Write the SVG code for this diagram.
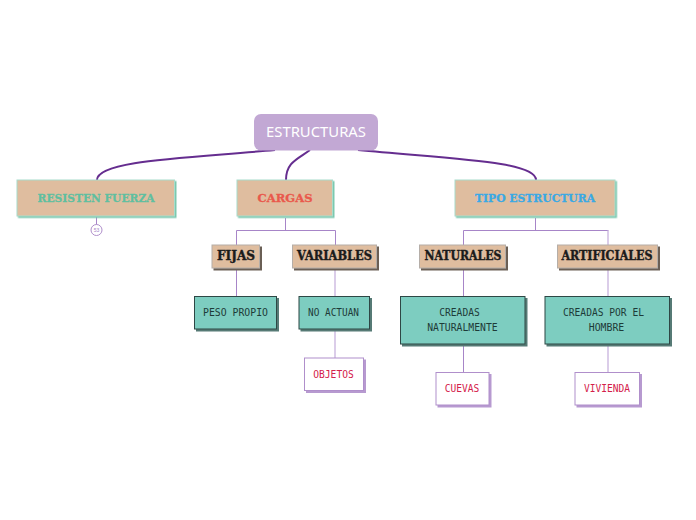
<svg xmlns="http://www.w3.org/2000/svg" width="696" height="520" viewBox="0 0 696 520">
<style>
text{text-anchor:middle}
.main{fill:#dfbd9f;stroke:#a8dccb;stroke-width:1;filter:url(#sg)}
.sub{fill:#dfbd9f;stroke:#b5aea8;stroke-width:1;filter:url(#sb)}
.teal{fill:#7dcdc0;stroke:#2f4744;stroke-width:1;filter:url(#sb2)}
.leaf{fill:#fff;stroke:#b08fcb;stroke-width:1;filter:url(#sp)}
.t1{font:bold 11.500px "DejaVu Serif",serif;stroke-width:.3}
.t2{font:bold 12px "DejaVu Serif",serif;fill:#1b1b1b;stroke:#1b1b1b;stroke-width:.4}
.t3{font:10.500px "DejaVu Sans Mono","Liberation Mono",monospace;fill:#1d3b38}
.t4{font:10.500px "DejaVu Sans Mono","Liberation Mono",monospace;fill:#d4204a}
.thick{fill:none;stroke:#652d8f;stroke-width:2}
.thin{fill:none;stroke:#a785c8;stroke-width:1}
.pale{fill:none;stroke:#cfbde2;stroke-width:1.500}
</style>
<defs>
<filter id="sg" x="-5%" y="-10%" width="110%" height="125%"><feDropShadow dx="1.500" dy="1.500" stdDeviation="0" flood-color="#7cc8ae"/></filter>
<filter id="sb" x="-5%" y="-10%" width="112%" height="130%"><feDropShadow dx="2" dy="2" stdDeviation="0" flood-color="#6b5e54"/></filter>
<filter id="sb2" x="-5%" y="-10%" width="112%" height="130%"><feDropShadow dx="2" dy="2" stdDeviation="0" flood-color="#577a75"/></filter>
<filter id="sp" x="-5%" y="-10%" width="115%" height="125%"><feDropShadow dx="2" dy="2" stdDeviation="0" flood-color="#b79ad0"/></filter>
</defs>
<g id="connectors">
<path class="thick" d="M275 150 C190 158 97 160 97 180"/>
<path class="thick" d="M310 150 C298 159 286 162 286 180"/>
<path class="thick" d="M358 150 C450 159 536 161 536 180"/>
<path class="thin" d="M96.500 217V225M285.500 218V230.500M236.500 245V230.500H335.500V245M535.500 218V230.500M463.500 245V230.500H608.500"/>
<path class="pale" d="M608 230.500V245M335 269V296M335 330V358M608 269V296M608 345V372"/>
<path class="thin" d="M236.500 269V296M463.500 269V296M463.500 345V372"/>
</g>
<g id="root"><rect x="254" y="114" width="124" height="36.500" rx="7" fill="#c2a8d4"/><text x="316" y="137" font-family="'Noto Sans',sans-serif" font-size="14.500" fill="#fff" textLength="100" lengthAdjust="spacingAndGlyphs">ESTRUCTURAS</text></g>
<g id="resisten"><rect class="main" x="17" y="180" width="157.500" height="36"/><text class="t1" x="96" y="201.500" fill="#5fbfa0" stroke="#5fbfa0" textLength="117" lengthAdjust="spacingAndGlyphs">RESISTEN FUERZA</text></g>
<g id="collapse"><circle cx="96.500" cy="230" r="5.500" fill="#fff" stroke="#b08fcb"/><text x="96.500" y="232" font-family="'Liberation Sans',sans-serif" font-size="5" fill="#a785c8">53</text></g>
<g id="cargas"><rect class="main" x="237" y="180" width="95.500" height="36"/><text class="t1" x="285" y="201.500" fill="#e9594c" stroke="#e9594c" textLength="55" lengthAdjust="spacingAndGlyphs">CARGAS</text></g>
<g id="tipo"><rect class="main" x="455" y="180" width="160" height="36"/><text class="t1" x="535" y="201.500" fill="#3aa9e4" stroke="#3aa9e4" textLength="120" lengthAdjust="spacingAndGlyphs">TIPO ESTRUCTURA</text></g>
<g id="fijas"><rect class="sub" x="212" y="245" width="47.500" height="23"/><text class="t2" x="236" y="259.500" textLength="38" lengthAdjust="spacingAndGlyphs">FIJAS</text></g>
<g id="variables"><rect class="sub" x="292.500" y="245" width="84" height="23"/><text class="t2" x="334.500" y="259.500" textLength="75" lengthAdjust="spacingAndGlyphs">VARIABLES</text></g>
<g id="naturales"><rect class="sub" x="419.500" y="245" width="86" height="23"/><text class="t2" x="463" y="259.500" textLength="77" lengthAdjust="spacingAndGlyphs">NATURALES</text></g>
<g id="artificiales"><rect class="sub" x="557.500" y="245" width="100" height="23"/><text class="t2" x="607" y="259.500" textLength="91" lengthAdjust="spacingAndGlyphs">ARTIFICIALES</text></g>
<g id="peso"><rect class="teal" x="194.500" y="296.500" width="82" height="32.500"/><text class="t3" x="235.500" y="316" textLength="65" lengthAdjust="spacingAndGlyphs">PESO PROPIO</text></g>
<g id="noactuan"><rect class="teal" x="299" y="296.500" width="70.500" height="32.500"/><text class="t3" x="333.500" y="316" textLength="51" lengthAdjust="spacingAndGlyphs">NO ACTUAN</text></g>
<g id="objetos"><rect class="leaf" x="304.500" y="358" width="59" height="32.500"/><text class="t4" x="333.500" y="378" textLength="40.500" lengthAdjust="spacingAndGlyphs">OBJETOS</text></g>
<g id="creadasnat"><rect class="teal" x="400.500" y="296.500" width="124.500" height="47.500"/><text class="t3" x="459.500" y="316" textLength="40.500" lengthAdjust="spacingAndGlyphs">CREADAS</text><text class="t3" x="462.500" y="331" textLength="70.500" lengthAdjust="spacingAndGlyphs">NATURALMENTE</text></g>
<g id="creadaspor"><rect class="teal" x="545" y="296.500" width="124.500" height="47.500"/><text class="t3" x="603.500" y="316" textLength="81" lengthAdjust="spacingAndGlyphs">CREADAS POR EL</text><text class="t3" x="606.500" y="331" textLength="35.500" lengthAdjust="spacingAndGlyphs">HOMBRE</text></g>
<g id="cuevas"><rect class="leaf" x="436" y="372.500" width="53" height="32.500"/><text class="t4" x="462" y="392" textLength="34.500" lengthAdjust="spacingAndGlyphs">CUEVAS</text></g>
<g id="vivienda"><rect class="leaf" x="575" y="372.500" width="64.500" height="32.500"/><text class="t4" x="607" y="392" textLength="46" lengthAdjust="spacingAndGlyphs">VIVIENDA</text></g>
</svg>
